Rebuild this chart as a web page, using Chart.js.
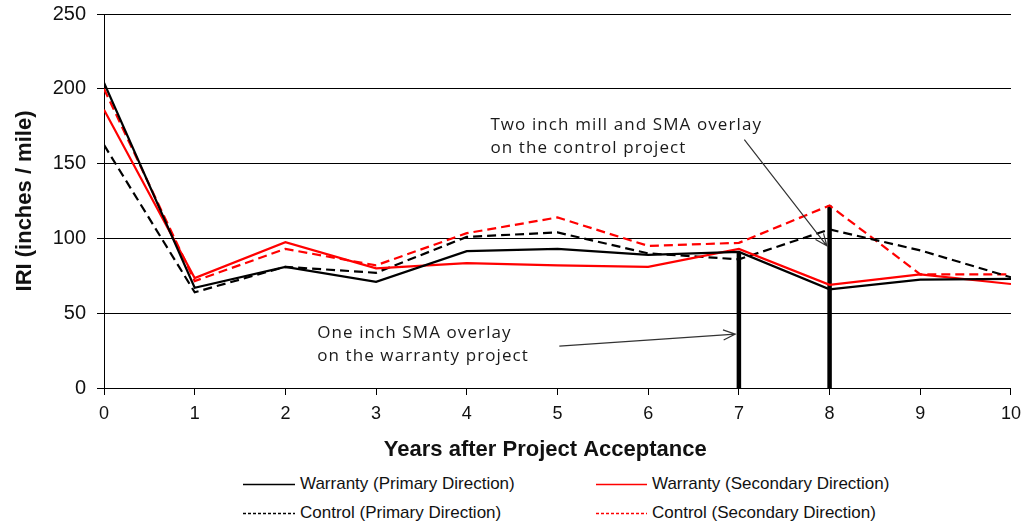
<!DOCTYPE html>
<html>
<head>
<meta charset="utf-8">
<script src="https://cdn.jsdelivr.net/npm/chart.js@4"></script>
<style>
  html, body { margin: 0; padding: 0; background: #fff; }
  #wrap { position: relative; width: 1029px; height: 525px; }
  #box { position: absolute; left: 0; top: 0; width: 1029px; height: 468px; }
  .leg { position: absolute; font: 17px "Liberation Sans", Arial, sans-serif; color: #111; white-space: nowrap; line-height: 18px; }
  .leg svg { position: absolute; top: 8px; }
</style>
</head>
<body>
<div id="wrap">
  <div id="box"><canvas id="iriChart"></canvas></div>
  <div id="legend"></div>
</div>
<script>
// years after acceptance
const years = [0, 1, 2, 3, 4, 5, 6, 7, 8, 9, 10];

// IRI values (inches / mile)
const warrantyPrimary   = [204, 67, 81, 71, 91.5, 93, 89, 91, 66, 72.5, 73];
const warrantySecondary = [186, 73.5, 97.5, 80, 83.5, 82, 81, 93, 69, 76, 69.5];
const controlPrimary    = [162.5, 64, 81, 77, 101, 104, 90, 86, 106, 92, 74];
const controlSecondary  = [200, 71.5, 93, 82, 103.5, 114, 95, 97, 122, 76, 76];

const seriesNames = [
    'Warranty (Primary Direction)',
    'Warranty (Secondary Direction)',
    'Control (Primary Direction)',
    'Control (Secondary Direction)'
];
const yTicks = [0, 50, 100, 150, 200, 250];

// overlay markers (year, IRI at top of the bar)
const overlayYears = [7, 8];
const overlayTops = [91, 122];

// callout texts and arrows [x, y] in data units
const noteLines = [
    ['One inch SMA overlay', 'on the warranty project'],
    ['Two inch mill and SMA overlay', 'on the control project']
];
const noteAnchors = [[2.35, 36.5], [4.26, 175.5]];
const arrowFrom = [[5.02, 28], [7.06, 166]];
const arrowTo = [[6.96, 36], [7.97, 95]];

function pts(vals) {
    return years.map(function (yr, i) { return { x: yr, y: vals[i] }; });
}

const datasets = [
    { label: seriesNames[0], data: pts(warrantyPrimary), borderColor: '#000000', borderWidth: 2.2, borderDash: [] },
    { label: seriesNames[1], data: pts(warrantySecondary), borderColor: '#ff0000', borderWidth: 2.2, borderDash: [] },
    { label: seriesNames[2], data: pts(controlPrimary), borderColor: '#000000', borderWidth: 2.2, borderDash: [9, 5] },
    { label: seriesNames[3], data: pts(controlSecondary), borderColor: '#ff0000', borderWidth: 2.2, borderDash: [9, 5] }
];
overlayYears.forEach(function (yr, i) {
    datasets.push({
        label: 'overlay' + yr,
        data: [{ x: yr, y: 0 }, { x: yr, y: overlayTops[i] }],
        borderColor: '#000000',
        borderWidth: 4.5,
        overlay: true
    });
});
datasets.forEach(function (d) {
    d.pointRadius = 0;
    d.tension = 0;
    d.fill = false;
    d.borderCapStyle = 'butt';
});

// callouts drawn on top of the chart area
const calloutPlugin = {
    id: 'callouts',
    afterDatasetsDraw: function (chart) {
        const ctx = chart.ctx;
        const xs = chart.scales.x, ys = chart.scales.y;
        ctx.save();
        ctx.font = '17px "Open Sans", sans-serif';
        if ('letterSpacing' in ctx) ctx.letterSpacing = '1.1px';
        ctx.fillStyle = '#1a1a1a';
        ctx.textBaseline = 'middle';
        noteLines.forEach(function (lines, i) {
            const x = xs.getPixelForValue(noteAnchors[i][0]);
            const y = ys.getPixelForValue(noteAnchors[i][1]);
            lines.forEach(function (t, j) { ctx.fillText(t, x, y + j * 23); });
        });
        ctx.strokeStyle = '#333333';
        ctx.lineWidth = 1.2;
        arrowFrom.forEach(function (p, i) {
            const x0 = xs.getPixelForValue(p[0]), y0 = ys.getPixelForValue(p[1]);
            const x1 = xs.getPixelForValue(arrowTo[i][0]), y1 = ys.getPixelForValue(arrowTo[i][1]);
            const a = Math.atan2(y1 - y0, x1 - x0);
            ctx.beginPath();
            ctx.moveTo(x0, y0);
            ctx.lineTo(x1, y1);
            ctx.moveTo(x1 - 13 * Math.cos(a - 0.4), y1 - 13 * Math.sin(a - 0.4));
            ctx.lineTo(x1, y1);
            ctx.lineTo(x1 - 13 * Math.cos(a + 0.4), y1 - 13 * Math.sin(a + 0.4));
            ctx.stroke();
        });
        ctx.restore();
    }
};

document.addEventListener("DOMContentLoaded", function () {
    const ctx = document.getElementById('iriChart').getContext('2d');
    const iriChart = new Chart(ctx, {
        type: 'line',
        data: { datasets: datasets },
        options: {
            responsive: true,
            maintainAspectRatio: false,
            animation: false,
            layout: { padding: { left: 0, right: 16, top: 14, bottom: 0 } },
            plugins: {
                legend: { display: false },
                tooltip: { enabled: false }
            },
            scales: {
                x: {
                    type: 'linear',
                    min: 0,
                    max: 10,
                    afterFit: function (scale) { scale.height = 80; },
                    ticks: {
                        stepSize: 1,
                        color: '#111',
                        padding: 8,
                        font: { family: '"Liberation Sans", Arial', size: 18 }
                    },
                    grid: { drawOnChartArea: false, drawTicks: true, tickLength: 7, color: '#000' },
                    border: { color: '#000', width: 1 },
                    title: {
                        display: true,
                        // trailing spaces nudge the title a bit left, as in the original
                        text: 'Years after Project Acceptance\u00a0\u00a0\u00a0\u00a0',
                        color: '#111',
                        padding: { top: 0, bottom: 5 },
                        font: { family: '"Liberation Sans", Arial', size: 22, weight: 'bold' }
                    }
                },
                y: {
                    min: 0,
                    max: 250,
                    afterFit: function (scale) {
                        scale.width = 104;
                        // let the top tick label overhang into the padding
                        scale.paddingTop = 0;
                        scale.paddingBottom = 0;
                    },
                    afterBuildTicks: function (scale) {
                        scale.ticks = yTicks.map(function (v) { return { value: v }; });
                    },
                    ticks: {
                        color: '#111',
                        padding: 11,
                        font: { family: '"Liberation Sans", Arial', size: 20 }
                    },
                    grid: { color: '#000', lineWidth: 1, tickLength: 7 },
                    border: { color: '#000', width: 1 },
                    title: {
                        display: true,
                        text: 'IRI (inches / mile)',
                        color: '#111',
                        padding: { top: 12, bottom: 0 },
                        font: { family: '"Liberation Sans", Arial', size: 22, weight: 'bold' }
                    }
                }
            }
        },
        plugins: [calloutPlugin]
    });

    // legend below the chart, two columns
    const colLine = [243, 596];
    const colText = [300, 652];
    const rowY = [475, 504];
    const legend = document.getElementById('legend');
    iriChart.data.datasets.forEach(function (d, i) {
        if (d.overlay) return;
        const col = i % 2, row = Math.floor(i / 2);
        const w = colText[col] - colLine[col] - 5;
        const item = document.createElement('div');
        item.className = 'leg';
        item.style.left = colLine[col] + 'px';
        item.style.top = rowY[row] + 'px';
        const dash = d.borderDash.length ? ' stroke-dasharray="3,2"' : '';
        item.innerHTML = '<svg width="' + w + '" height="3" style="left:0"><line x1="0" y1="1.5" x2="' + w +
            '" y2="1.5" stroke="' + d.borderColor + '" stroke-width="1.3"' + dash + '/></svg>' +
            '<span style="margin-left:' + (colText[col] - colLine[col]) + 'px">' + d.label + '</span>';
        legend.appendChild(item);
    });
});
</script>
</body>
</html>
